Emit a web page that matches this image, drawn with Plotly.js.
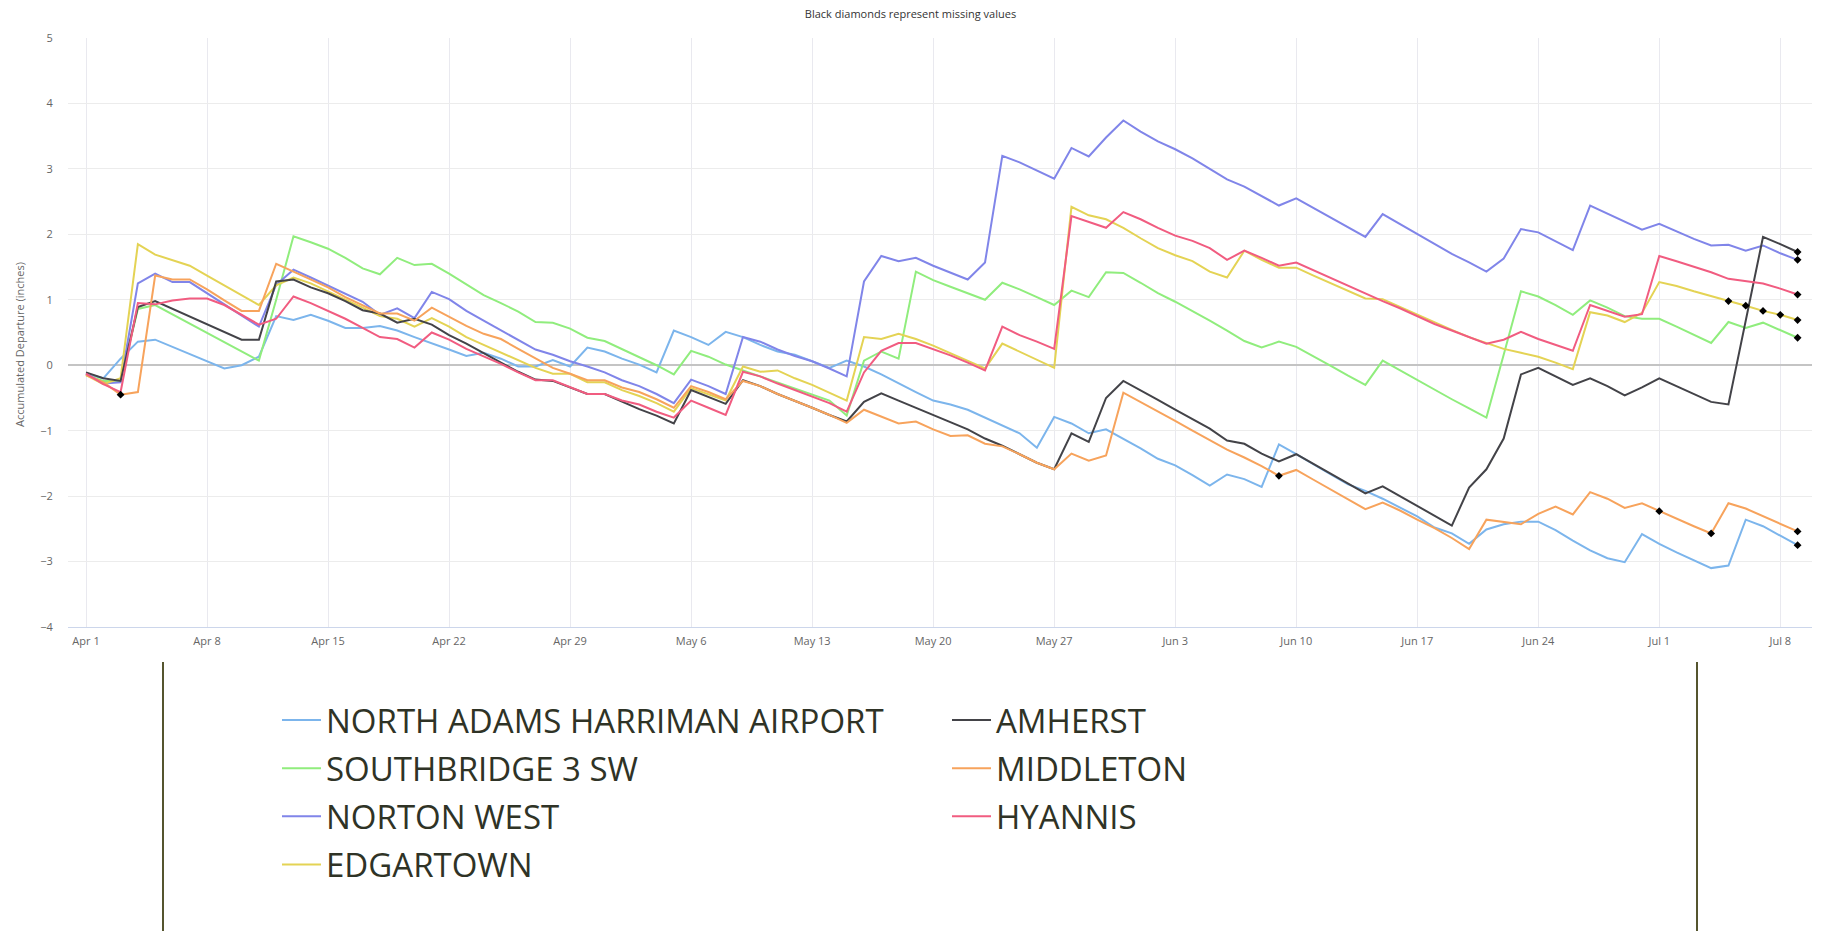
<!DOCTYPE html>
<html>
<head>
<meta charset="utf-8">
<script src="https://cdn.plot.ly/plotly-3.0.1.min.js"></script>
<style>html,body{margin:0;padding:0;background:#fff;}#chart{width:1821px;height:931px;}</style>
</head>
<body>
<div id="chart"></div>
<script>
const dates = [
"2024-04-01","2024-04-02","2024-04-03","2024-04-04","2024-04-05","2024-04-06","2024-04-07","2024-04-08","2024-04-09","2024-04-10",
"2024-04-11","2024-04-12","2024-04-13","2024-04-14","2024-04-15","2024-04-16","2024-04-17","2024-04-18","2024-04-19","2024-04-20",
"2024-04-21","2024-04-22","2024-04-23","2024-04-24","2024-04-25","2024-04-26","2024-04-27","2024-04-28","2024-04-29","2024-04-30",
"2024-05-01","2024-05-02","2024-05-03","2024-05-04","2024-05-05","2024-05-06","2024-05-07","2024-05-08","2024-05-09","2024-05-10",
"2024-05-11","2024-05-12","2024-05-13","2024-05-14","2024-05-15","2024-05-16","2024-05-17","2024-05-18","2024-05-19","2024-05-20",
"2024-05-21","2024-05-22","2024-05-23","2024-05-24","2024-05-25","2024-05-26","2024-05-27","2024-05-28","2024-05-29","2024-05-30",
"2024-05-31","2024-06-01","2024-06-02","2024-06-03","2024-06-04","2024-06-05","2024-06-06","2024-06-07","2024-06-08","2024-06-09",
"2024-06-10","2024-06-11","2024-06-12","2024-06-13","2024-06-14","2024-06-15","2024-06-16","2024-06-17","2024-06-18","2024-06-19",
"2024-06-20","2024-06-21","2024-06-22","2024-06-23","2024-06-24","2024-06-25","2024-06-26","2024-06-27","2024-06-28","2024-06-29",
"2024-06-30","2024-07-01","2024-07-02","2024-07-03","2024-07-04","2024-07-05","2024-07-06","2024-07-07","2024-07-08","2024-07-09"];

const northAdams = [-0.13,-0.2,0.1,0.36,0.39,0.28,0.17,0.07,-0.05,0.0,
0.13,0.75,0.69,0.77,0.68,0.57,0.57,0.6,0.53,0.43,
0.34,0.24,0.14,0.19,0.1,-0.02,-0.02,0.08,-0.02,0.27,
0.21,0.1,0.01,-0.11,0.53,0.43,0.31,0.51,0.43,0.31,
0.21,0.16,0.06,-0.04,0.07,-0.02,-0.14,-0.28,-0.41,-0.54,
-0.6,-0.68,-0.8,-0.92,-1.04,-1.26,-0.79,-0.89,-1.04,-0.98,
-1.12,-1.27,-1.43,-1.53,-1.68,-1.84,-1.67,-1.74,-1.86,-1.21,
-1.36,-1.52,-1.67,-1.82,-1.92,-2.04,-2.17,-2.31,-2.48,-2.57,
-2.73,-2.51,-2.43,-2.39,-2.39,-2.52,-2.68,-2.83,-2.95,-3.01,
-2.58,-2.73,-2.86,-2.98,-3.1,-3.06,-2.36,-2.46,-2.61,-2.75];

const southbridge = [-0.15,-0.24,-0.24,0.86,0.92,0.78,0.64,0.5,0.35,0.21,
0.07,1.0,1.97,1.88,1.78,1.64,1.48,1.39,1.64,1.53,
1.55,1.4,1.23,1.07,0.95,0.82,0.66,0.65,0.56,0.42,
0.37,0.25,0.13,0.0,-0.14,0.22,0.13,0.01,-0.08,-0.17,
-0.26,-0.35,-0.44,-0.54,-0.77,0.07,0.21,0.1,1.43,1.3,
1.2,1.1,1.0,1.26,1.16,1.04,0.92,1.14,1.04,1.42,
1.41,1.26,1.1,0.97,0.83,0.68,0.53,0.37,0.27,0.36,
0.28,0.14,-0.01,-0.16,-0.3,0.07,-0.08,-0.23,-0.38,-0.52,
-0.66,-0.8,0.16,1.13,1.05,0.92,0.77,0.99,0.88,0.75,
0.71,0.71,0.59,0.46,0.34,0.66,0.57,0.65,0.54,0.42];

const nortonWest = [-0.13,-0.28,-0.26,1.25,1.4,1.27,1.27,1.1,0.92,0.75,
0.59,1.23,1.46,1.34,1.22,1.1,0.97,0.77,0.87,0.72,
1.12,1.01,0.83,0.68,0.53,0.39,0.24,0.16,0.06,-0.02,
-0.11,-0.23,-0.32,-0.44,-0.58,-0.22,-0.32,-0.44,0.43,0.36,
0.24,0.14,0.06,-0.05,-0.17,1.28,1.67,1.59,1.64,1.52,
1.42,1.31,1.57,3.2,3.1,2.97,2.85,3.32,3.19,3.48,
3.74,3.57,3.42,3.3,3.16,3.0,2.84,2.73,2.58,2.44,
2.55,2.4,2.25,2.1,1.96,2.31,2.16,2.0,1.85,1.7,
1.57,1.43,1.63,2.08,2.03,1.9,1.76,2.44,2.32,2.2,
2.07,2.16,2.04,1.93,1.83,1.84,1.75,1.83,1.71,1.61];

const edgartown = [-0.15,-0.29,-0.2,1.85,1.69,1.6,1.52,1.37,1.22,1.07,
0.92,1.22,1.34,1.25,1.13,1.01,0.88,0.75,0.71,0.59,
0.72,0.59,0.43,0.31,0.19,0.07,-0.04,-0.13,-0.13,-0.26,
-0.26,-0.38,-0.47,-0.58,-0.71,-0.35,-0.44,-0.54,-0.02,-0.1,
-0.08,-0.2,-0.3,-0.42,-0.54,0.43,0.4,0.48,0.4,0.3,
0.18,0.07,-0.05,0.33,0.21,0.08,-0.04,2.42,2.29,2.23,
2.1,1.94,1.79,1.68,1.59,1.43,1.34,1.75,1.61,1.49,
1.49,1.37,1.25,1.13,1.02,1.01,0.89,0.77,0.65,0.54,
0.43,0.34,0.25,0.19,0.13,0.04,-0.06,0.81,0.76,0.66,
0.8,1.27,1.21,1.13,1.06,0.98,0.91,0.83,0.77,0.69];

const amherst = [-0.11,-0.2,-0.24,0.89,0.98,0.86,0.74,0.62,0.51,0.39,
0.39,1.28,1.31,1.19,1.1,0.98,0.84,0.79,0.65,0.71,
0.62,0.46,0.33,0.18,0.04,-0.1,-0.22,-0.24,-0.34,-0.44,
-0.44,-0.56,-0.67,-0.77,-0.89,-0.38,-0.48,-0.59,-0.23,-0.32,
-0.44,-0.54,-0.65,-0.76,-0.86,-0.56,-0.43,-0.54,-0.65,-0.77,
-0.88,-0.98,-1.12,-1.23,-1.36,-1.49,-1.59,-1.04,-1.17,-0.5,
-0.24,-0.38,-0.53,-0.68,-0.82,-0.97,-1.15,-1.2,-1.35,-1.47,
-1.36,-1.51,-1.67,-1.82,-1.96,-1.85,-2.0,-2.16,-2.31,-2.45,
-1.87,-1.59,-1.12,-0.14,-0.04,-0.17,-0.3,-0.2,-0.32,-0.46,
-0.34,-0.2,-0.32,-0.44,-0.56,-0.6,0.68,1.96,1.85,1.73];

const middleton = [-0.15,-0.26,-0.45,-0.41,1.37,1.31,1.31,1.16,0.99,0.83,
0.83,1.55,1.43,1.31,1.19,1.04,0.91,0.79,0.79,0.68,
0.88,0.74,0.6,0.48,0.4,0.25,0.1,-0.04,-0.13,-0.23,
-0.23,-0.34,-0.41,-0.52,-0.65,-0.32,-0.41,-0.52,-0.24,-0.32,
-0.44,-0.54,-0.65,-0.76,-0.88,-0.68,-0.79,-0.89,-0.86,-0.98,
-1.08,-1.07,-1.2,-1.24,-1.36,-1.49,-1.59,-1.35,-1.46,-1.38,
-0.42,-0.56,-0.71,-0.85,-1.0,-1.15,-1.29,-1.41,-1.54,-1.69,
-1.6,-1.75,-1.9,-2.05,-2.2,-2.1,-2.22,-2.36,-2.49,-2.64,
-2.81,-2.36,-2.4,-2.43,-2.27,-2.16,-2.28,-1.94,-2.04,-2.18,
-2.11,-2.23,-2.34,-2.46,-2.57,-2.11,-2.19,-2.31,-2.42,-2.54];

const hyannis = [-0.13,-0.29,-0.41,0.95,0.93,0.99,1.02,1.02,0.92,0.77,
0.62,0.71,1.05,0.95,0.83,0.71,0.57,0.43,0.4,0.27,
0.5,0.39,0.25,0.14,0.02,-0.11,-0.23,-0.23,-0.34,-0.44,
-0.44,-0.54,-0.6,-0.71,-0.8,-0.54,-0.65,-0.76,-0.1,-0.17,
-0.28,-0.38,-0.47,-0.58,-0.71,-0.11,0.22,0.34,0.34,0.25,
0.15,0.04,-0.08,0.59,0.46,0.36,0.25,2.28,2.19,2.1,
2.34,2.23,2.1,1.98,1.9,1.79,1.61,1.75,1.64,1.52,
1.57,1.45,1.33,1.21,1.1,0.98,0.87,0.75,0.63,0.53,
0.43,0.33,0.39,0.51,0.4,0.31,0.22,0.92,0.83,0.74,
0.78,1.67,1.59,1.51,1.42,1.32,1.28,1.25,1.17,1.08];

// indices (into dates) of missing values, drawn as black diamonds
const missingNorthAdams = [99];
const missingSouthbridge = [99];
const missingNortonWest = [99];
const missingEdgartown = [95,96,97,98,99];
const missingAmherst = [99];
const missingMiddleton = [2,69,91,94,99];
const missingHyannis = [99];

const stationNames = ["NORTH ADAMS HARRIMAN AIRPORT","SOUTHBRIDGE 3 SW","NORTON WEST","EDGARTOWN","AMHERST","MIDDLETON","HYANNIS"];
const tickDates = ["2024-04-01","2024-04-08","2024-04-15","2024-04-22","2024-04-29","2024-05-06","2024-05-13","2024-05-20","2024-05-27","2024-06-03","2024-06-10","2024-06-17","2024-06-24","2024-07-01","2024-07-08"];
const yAxisTitle = "Accumulated Departure (inches)";

const seriesValues = [northAdams, southbridge, nortonWest, edgartown, amherst, middleton, hyannis];
const seriesMissing = [missingNorthAdams, missingSouthbridge, missingNortonWest, missingEdgartown, missingAmherst, missingMiddleton, missingHyannis];
const colors = ["#7cb5ec","#90ed7d","#8085e9","#e4d354","#434348","#f7a35c","#f15c80"];
const legendFor = ["legend","legend","legend","legend","legend2","legend2","legend2"];

const traces = seriesValues.map((vals, i) => ({
  type: "scatter", mode: "lines", name: stationNames[i],
  x: dates, y: vals,
  line: {color: colors[i], width: 2},
  legend: legendFor[i], legendgroup: "g" + i,
  hoverinfo: "x+y+name"
}));

const mx = [], my = [];
seriesMissing.forEach((idxs, i) => idxs.forEach(k => { mx.push(dates[k]); my.push(seriesValues[i][k]); }));
traces.push({
  type: "scatter", mode: "markers", x: mx, y: my, showlegend: false,
  marker: {symbol: "diamond", size: 6, color: "#000000"}, hoverinfo: "skip"
});

const W = 1821, H = 931;
const plotL = 68, plotR = 1812, plotT = 38, plotB = 627;
const px2x = p => (p - plotL) / (plotR - plotL);
const px2y = p => (plotB - p) / (plotB - plotT);

const legendFont = {family: "Open Sans, sans-serif", size: 33, color: "#2f3326"};

const layout = {
  width: W, height: H,
  margin: {l: plotL, r: W - plotR, t: plotT, b: H - plotB, autoexpand: false},
  paper_bgcolor: "#ffffff", plot_bgcolor: "#ffffff",
  font: {family: "Open Sans, sans-serif", size: 11, color: "#666666"},
  title: {text: "Black diamonds represent missing values", font: {size: 11, color: "#333333"},
          x: 0.5, xref: "container", xanchor: "center", y: 1 - 14 / H, yref: "container", yanchor: "middle"},
  xaxis: {
    type: "date", range: ["2024-03-30 23:00", "2024-07-09 20:00"],
    tickvals: tickDates, tickformat: "%b %-d",
    showgrid: true, gridcolor: "#e9e9ef", gridwidth: 1,
    showline: true, linecolor: "#ccd6eb", linewidth: 1,
    ticks: "outside", ticklen: 4, tickcolor: "rgba(0,0,0,0)", zeroline: false,
    tickfont: {size: 11, color: "#666666"}
  },
  yaxis: {
    range: [-4, 5], dtick: 1, tick0: 0,
    showgrid: true, gridcolor: "#ececec", gridwidth: 1,
    zeroline: true, zerolinecolor: "#c4c4c4", zerolinewidth: 2,
    showline: false, ticks: "outside", ticklen: 12, tickcolor: "rgba(0,0,0,0)",
    tickfont: {size: 11, color: "#666666"}
  },
  annotations: [
    {text: yAxisTitle, textangle: -90, showarrow: false,
     xref: "paper", yref: "paper", x: px2x(20), y: px2y(345), xanchor: "center", yanchor: "middle",
     font: {size: 11, color: "#666666"}}
  ],
  showlegend: true,
  legend: {
    xref: "container", yref: "container", x: 277 / W, y: 1 - 692 / H, xanchor: "left", yanchor: "top",
    orientation: "v", font: legendFont, bgcolor: "rgba(0,0,0,0)", borderwidth: 0,
    itemwidth: 39, tracegroupgap: 2.3
  },
  legend2: {
    xref: "container", yref: "container", x: 947 / W, y: 1 - 692 / H, xanchor: "left", yanchor: "top",
    orientation: "v", font: legendFont, bgcolor: "rgba(0,0,0,0)", borderwidth: 0,
    itemwidth: 39, tracegroupgap: 2.3
  },
  shapes: [
    {type: "line", xref: "paper", yref: "paper", x0: px2x(163), x1: px2x(163), y0: px2y(662), y1: px2y(940),
     line: {color: "#55552f", width: 2}},
    {type: "line", xref: "paper", yref: "paper", x0: px2x(1697), x1: px2x(1697), y0: px2y(662), y1: px2y(940),
     line: {color: "#55552f", width: 2}}
  ],
  hovermode: "closest"
};

Plotly.newPlot("chart", traces, layout, {displayModeBar: false, responsive: false});
</script>
</body>
</html>
